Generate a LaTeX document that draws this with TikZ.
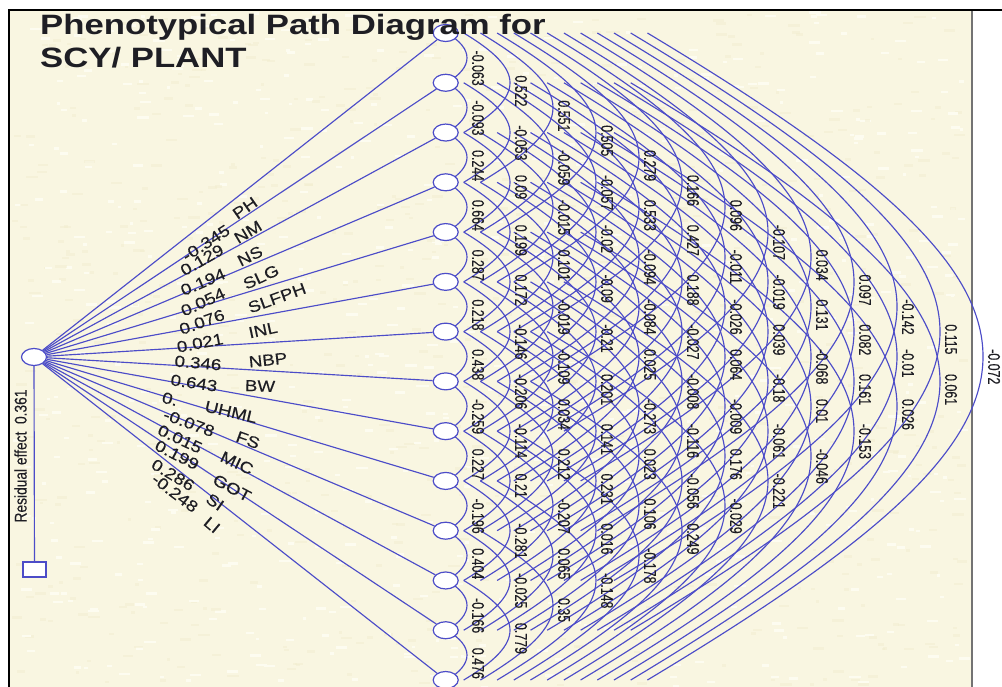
\documentclass[tikz,border=0pt]{standalone}
\usepackage{fontspec}
\usepackage{graphicx}
\setmainfont{Liberation Sans}
\newfontfamily\labfont{Liberation Sans}[FakeBold=0.25]
\usetikzlibrary{backgrounds,shapes.geometric}
\definecolor{paper}{HTML}{F9F6E1}
\definecolor{paperlight}{HTML}{FDFCF0}
\definecolor{paperdark}{HTML}{F2EED0}
\definecolor{pathblue}{HTML}{4C4CC8}
\definecolor{ink}{HTML}{1E1E24}
\tikzset{
  varnode/.style={ellipse,draw=pathblue,fill=white,line width=1.2pt,minimum width=25pt,minimum height=17pt,inner sep=0pt},
  boxnode/.style={rectangle,draw=pathblue,fill=white,line width=1.2pt,minimum width=23pt,minimum height=15pt,inner sep=0pt},
  pathline/.style={draw=pathblue,line width=1.15pt},
  corrlab/.style={rotate=-90,anchor=west,inner sep=0pt,text=ink,font=\labfont\fontsize{17}{17}\selectfont},
  sidelab/.style={inner sep=0pt,text=ink,font=\labfont\fontsize{16}{16}\selectfont},
  titlelab/.style={anchor=base west,inner sep=0pt,text=ink,font=\fontsize{28}{28}\selectfont\bfseries},
}
\newcommand{\corrtxt}[1]{\scalebox{0.73}[1]{#1}}
\newcommand{\sidetxt}[1]{\scalebox{1.17}[1]{#1}}
\begin{document}
\begin{tikzpicture}[x=1pt,y=-1pt]
\useasboundingbox (0,0) rectangle (1002,687);
% variable nodes
\foreach \nm [count=\i] in {PH,NM,NS,SLG,SLFPH,INL,NBP,BW,UHML,FS,MIC,GOT,SI,LI}{
  \pgfmathsetmacro{\yy}{33+49.77*(\i-1)}
  \node[varnode] (n\i) at (445.7,\yy) {};
}
\node[varnode] (hub) at (34,357) {};
\node[boxnode] (res) at (34.5,569.5) {};
\begin{scope}[on background layer]
  \fill[white] (0,0) rectangle (1002,687);
  \fill[paper] (9,10) rectangle (972,687);
  \pgfmathsetseed{4242}
  \foreach \q in {1,...,1400}{
    \pgfmathsetmacro{\px}{10+951*rnd}
    \pgfmathsetmacro{\py}{11+675*rnd}
    \pgfmathsetmacro{\pw}{3+9*rnd}
    \pgfmathsetmacro{\pc}{rnd<0.5 ? 1 : 0}
    \ifnum\pc=1 \fill[paperlight] (\px,\py) rectangle ++(\pw,2.5);
    \else \fill[paperdark,opacity=.5] (\px,\py) rectangle ++(\pw,2.5); \fi
  }
  \draw[black,line width=2pt] (9,687) -- (9,10.5) -- (1002,10.5);
  \draw[black!55,line width=2pt] (972,11) -- (972,687);
  % correlation arcs
  \foreach \k in {1,...,13}{
    \pgfmathtruncatemacro{\last}{14-\k}
    \pgfmathsetmacro{\dx}{1.3+16.7*(\k-1)}
    \pgfmathsetmacro{\cx}{(424+43*\k-447-16.7*(\k-1))/0.75}
    \pgfmathsetmacro{\cy}{0.6*\cx}
    \foreach \i in {1,...,\last}{
      \pgfmathtruncatemacro{\j}{\i+\k}
      \path (n\i.center) ++(\dx,0) coordinate (s);
      \path (n\j.center) ++(\dx,0) coordinate (e);
      \draw[pathline] (s) .. controls +(\cx,\cy) and +(\cx,-\cy) .. (e);
    }
  }
\end{scope}
% paths from the hub
\foreach \i in {1,...,14}{ \draw[pathline] (hub) -- (n\i); }
\draw[pathline] (hub) -- (res);
% title over the first node
\node[titlelab] (t1) at (40,35) {\scalebox{1.24}[1]{Phenotypical Path Diagram for}};
\node[titlelab] (t2) at (40,68) {\scalebox{1.24}[1]{SCY/ PLANT}};
\node[rotate=90,inner sep=0pt,text=ink,font=\labfont\fontsize{17}{17}\selectfont] (rl) at (20.5,456) {\scalebox{0.81}[1]{Residual effect\ \ 0.361}};
% side labels
\foreach \v/\px/\py/\a in {
  -0.345/206/243/33, 0.129/202/260/30, 0.194/203/282/23, 0.054/203/302/25,
  0.076/202/322/20, 0.021/200/343/11, 0.346/198/363/-5, 0.643/194/383/-8,
  0./170/399/-14, -0.078/189/423/-20, 0.015/180/439/-25, 0.199/177/455/-27,
  0.286/173/475/-31, -0.248/175/493/-37}{
  \node[sidelab,rotate=\a] at (\px,\py) {\sidetxt{\v}};
}
\foreach \v/\px/\py/\a in {
  PH/245/208/35, NM/248/232/31, NS/250/256/27, SLG/261/277/25,
  SLFPH/277/298/20, INL/263/330/12, NBP/268/360/6, BW/260/386/-2,
  UHML/231/412/-13, FS/248/440/-20, MIC/237/463/-25, GOT/232/488/-28,
  SI/215/502/-35, LI/212/525/-40}{
  \node[sidelab,rotate=\a] at (\px,\py) {\sidetxt{\v}};
}
% correlation labels
\foreach \k/\vals in {
  1/{-0.063,-0.093,0.244,0.664,0.287,0.218,0.438,-0.259,0.227,-0.196,0.404,-0.166,0.476},
  2/{0.522,-0.053,0.09,0.199,0.172,-0.146,-0.206,-0.114,0.21,-0.281,-0.025,0.779},
  3/{0.551,-0.059,-0.015,0.101,-0.019,-0.109,0.034,0.212,-0.207,0.065,0.35},
  4/{0.505,-0.057,-0.02,-0.09,-0.21,0.201,0.141,0.231,0.016,-0.148},
  5/{0.279,0.533,-0.094,-0.084,0.025,-0.273,0.023,0.106,-0.178},
  6/{0.166,0.427,0.188,-0.027,-0.008,-0.116,-0.056,0.249},
  7/{0.096,-0.011,-0.026,0.064,-0.009,0.176,-0.029},
  8/{-0.107,-0.019,0.039,-0.18,-0.061,-0.221},
  9/{0.034,0.131,-0.068,0.01,-0.046},
  10/{0.097,0.082,0.161,-0.153},
  11/{-0.142,-0.01,0.026},
  12/{0.115,0.061},
  13/{-0.072}}{
  \edef\vallist{\vals}
  \foreach \v [count=\i] in \vallist {
    \pgfmathsetmacro{\lx}{435+43*\k}
    \pgfmathsetmacro{\ly}{33+49.77*(\i-1)+24.885*\k-7.5}
    \node[corrlab] (c\k-\i) at (\lx,\ly) {\corrtxt{\v}};
  }
}
\end{tikzpicture}
\end{document}
